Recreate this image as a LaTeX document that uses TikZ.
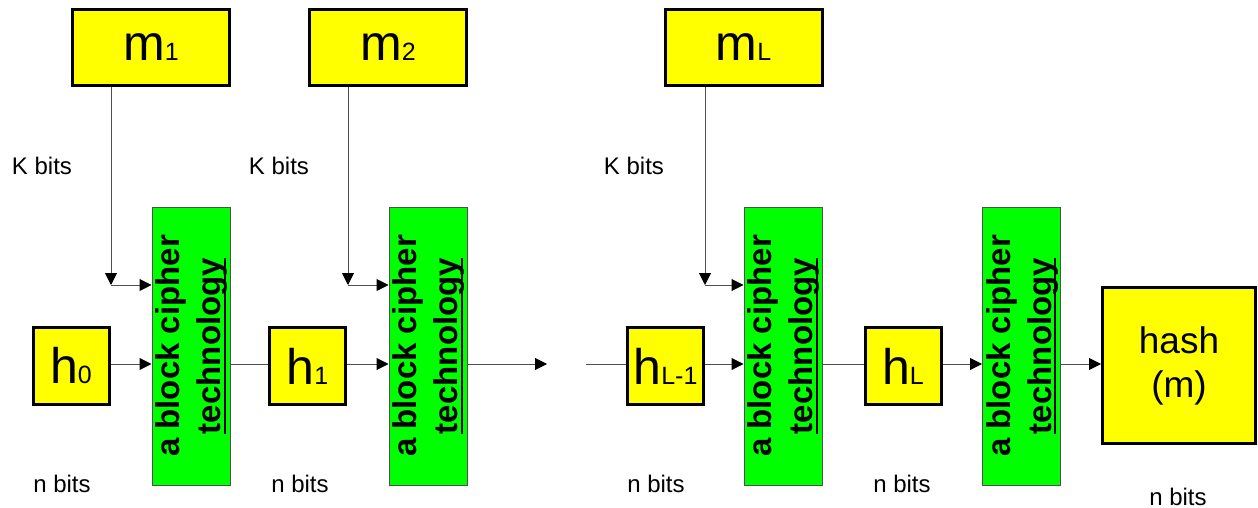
\documentclass[tikz,border=0pt]{standalone}
\usepackage{fontspec}
\setmainfont{Liberation Sans}
\usetikzlibrary{arrows.meta}
\definecolor{ybox}{HTML}{FFFF00}
\definecolor{gbox}{HTML}{00FF00}
\definecolor{wire}{HTML}{505050}
\newcommand\smallsub[1]{{\fontsize{25}{25}\selectfont #1}}
\newcommand\ulword[1]{\setbox0\hbox{#1}\rlap{\rule[-5pt]{\wd0}{2pt}}\box0}
\begin{document}
\begin{tikzpicture}[x=1pt,y=-1pt,
  ybig/.style={draw=black,line width=3pt,fill=ybox,inner sep=0pt,
    font=\fontsize{50}{50}\selectfont},
  mbox/.style={ybig,minimum width=157pt,minimum height=76pt},
  hbox/.style={ybig,minimum width=76pt,minimum height=77pt},
  cipher/.style={draw=wire,line width=1pt,fill=gbox,inner sep=0pt,
    minimum width=78pt,minimum height=278pt},
  ctext/.style={rotate=90,align=center,
    font=\fontsize{33}{41}\selectfont\bfseries},
  lbl/.style={font=\fontsize{24}{24}\selectfont,anchor=base,inner sep=0pt},
  wireline/.style={draw=wire,line width=1pt},
  arr/.style={wireline,-{Triangle[length=12pt,width=12pt,color=black]}}
]
\useasboundingbox (0,0) rectangle (1258,508);

% message blocks
\node[mbox] (m1) at (151,47.5) {m\smallsub{1}};
\node[mbox] (m2) at (388,47.5) {m\smallsub{2}};
\node[mbox] (mL) at (743.5,47.5) {m\smallsub{L}};

% chaining values
\node[hbox] (h0) at (71,366) {h\smallsub{0}};
\node[hbox] (h1) at (307.5,366) {h\smallsub{1}};
\node[hbox] (hL1) at (665.5,366) {h\smallsub{L-1}};
\node[hbox] (hL) at (903,366) {h\smallsub{L}};
\node[ybig,minimum width=153pt,minimum height=156pt,align=center,
  font=\fontsize{37}{44}\selectfont] (hash) at (1179,365.5) {hash\\(m)};

% cipher blocks
\foreach \n/\x in {g1/191,g2/428,g3/783,g4/1021.5}{
  \node[cipher] (\n) at (\x,346) {};
  \node[ctext] at (\x+1,346) {a block cipher\\\ulword{technology}};
}

% key inputs
\coordinate (j1) at (111,285);
\coordinate (j2) at (348,285);
\coordinate (j3) at (705,285);
\draw[arr] (m1.south -| j1) -- (j1);
\draw[arr] (j1) -- (j1 -| g1.west);
\draw[arr] (m2.south -| j2) -- (j2);
\draw[arr] (j2) -- (j2 -| g2.west);
\draw[arr] (mL.south -| j3) -- (j3);
\draw[arr] (j3) -- (j3 -| g3.west);

% chain
\coordinate (gapA) at (547,364);
\coordinate (gapB) at (586,364);
\draw[arr] (h0.east |- 0,364) -- (g1.west |- 0,364);
\draw[wireline] (g1.east |- 0,364) -- (h1.west |- 0,364);
\draw[arr] (h1.east |- 0,364) -- (g2.west |- 0,364);
\draw[arr] (g2.east |- 0,364) -- (gapA);
\draw[wireline] (gapB) -- (hL1.west |- gapB);
\draw[arr] (hL1.east |- 0,364) -- (g3.west |- 0,364);
\draw[wireline] (g3.east |- 0,364) -- (hL.west |- 0,364);
\draw[arr] (hL.east |- 0,364) -- (g4.west |- 0,364);
\draw[arr] (g4.east |- 0,364) -- (hash.west |- 0,364);

% labels
\node[lbl] (k1) at (42,174) {K bits};
\node[lbl] (k2) at (279,174) {K bits};
\node[lbl] (k3) at (634,174) {K bits};
\node[lbl] (n1) at (62,492) {n bits};
\node[lbl] (n2) at (300,492) {n bits};
\node[lbl] (n3) at (656,492) {n bits};
\node[lbl] (n4) at (902,492) {n bits};
\node[lbl] (n5) at (1178,505) {n bits};
\end{tikzpicture}
\end{document}
